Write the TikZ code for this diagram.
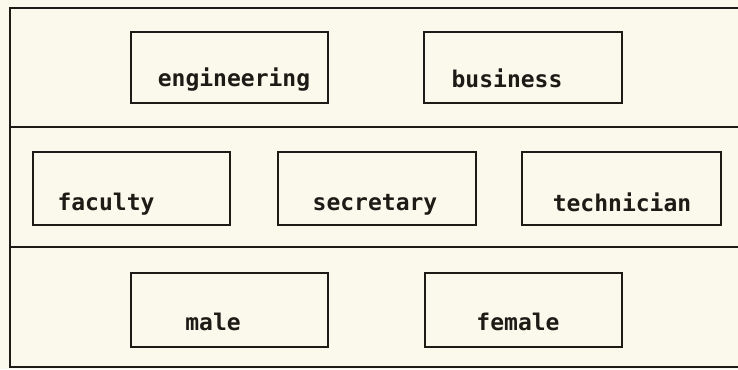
\documentclass[tikz,border=0pt]{standalone}
\usepackage{fontspec}
\setmonofont{DejaVu Sans Mono}
\definecolor{paper}{HTML}{FBF9EC}
\definecolor{ink}{HTML}{1E1A16}
\begin{document}
\begin{tikzpicture}[x=1pt,y=-1pt,
  frame/.style={draw=ink,line width=2.3pt},
  catbox/.style={draw=ink,line width=2.3pt,rectangle,inner sep=0pt},
  cattext/.style={anchor=base,inner sep=0pt,text=ink,
    font=\ttfamily\bfseries\fontsize{23}{27}\selectfont}]
  % page
  \fill[paper] (0,0) rectangle (738,369);
  \useasboundingbox (0,0) rectangle (738,369);
  % outer frame (open at the right) and band dividers
  \coordinate (tl) at (10,8);
  \coordinate (tr) at (738,8);
  \coordinate (bl) at (10,367);
  \coordinate (br) at (738,367);
  \coordinate (d1l) at (10,127);
  \coordinate (d1r) at (738,127);
  \coordinate (d2l) at (10,247);
  \coordinate (d2r) at (738,247);
  \draw[frame] (tr) -- (tl) -- (bl) -- (br);
  \draw[frame] (d1l) -- (d1r);
  \draw[frame] (d2l) -- (d2r);
  % band 1: school
  \draw[catbox] (131,32) rectangle (328,103);
  \draw[catbox] (424,32) rectangle (622,103);
  \node[cattext] (eng) at (234,86) {engineering};
  \node[cattext] (bus) at (507,87) {business};
  % band 2: position
  \draw[catbox] (33,152) rectangle (230,225);
  \draw[catbox] (278,152) rectangle (476,225);
  \draw[catbox] (522,152) rectangle (721,225);
  \node[cattext] (fac) at (106,210) {faculty};
  \node[cattext] (sec) at (375,210) {secretary};
  \node[cattext] (tec) at (622,211) {technician};
  % band 3: sex
  \draw[catbox] (131,273) rectangle (328,347);
  \draw[catbox] (425,273) rectangle (622,347);
  \node[cattext] (mal) at (213,330) {male};
  \node[cattext] (fem) at (518,330) {female};
\end{tikzpicture}
\end{document}
